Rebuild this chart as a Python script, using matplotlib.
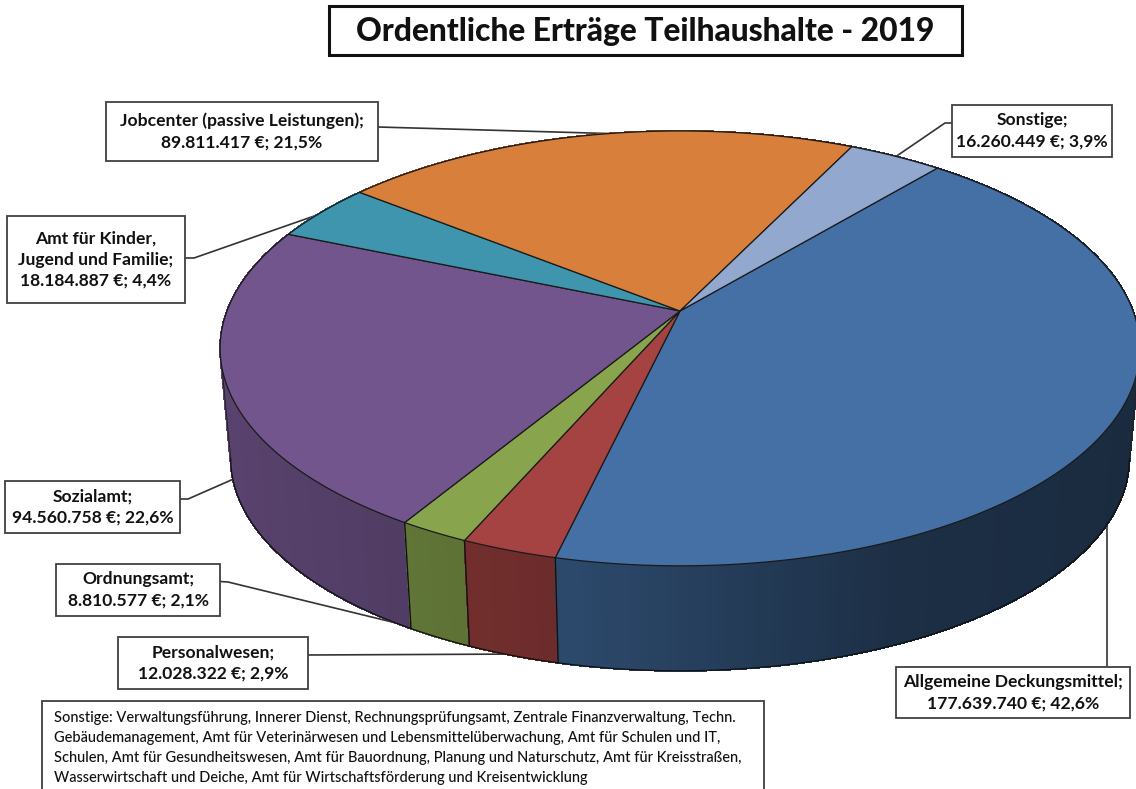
import numpy as np
import matplotlib
matplotlib.use("Agg")
import matplotlib.pyplot as plt
from matplotlib.patches import Polygon, Rectangle

# ---- data ----
categories = ["Allgemeine Deckungsmittel", "Personalwesen", "Ordnungsamt", "Sozialamt",
              "Amt für Kinder,\nJugend und Familie", "Jobcenter (passive Leistungen)", "Sonstige"]
values = [177639740, 12028322, 8810577, 94560758, 18184887, 89811417, 16260449]
value_labels = ["177.639.740 €; 42,6%", "12.028.322 €; 2,9%", "8.810.577 €; 2,1%", "94.560.758 €; 22,6%",
                "18.184.887 €; 4,4%", "89.811.417 €; 21,5%", "16.260.449 €; 3,9%"]
top_colors = ["#4470A5", "#A54342", "#88A54E", "#71558C", "#3F94AE", "#D87F3C", "#92A8CF"]
title = "Ordentliche Erträge Teilhaushalte - 2019"
note = ("Sonstige: Verwaltungsführung, Innerer Dienst, Rechnungsprüfungsamt, Zentrale Finanzverwaltung, Techn.\n"
        "Gebäudemanagement, Amt für Veterinärwesen und Lebensmittelüberwachung, Amt für Schulen und IT,\n"
        "Schulen, Amt für Gesundheitswesen, Amt für Bauordnung, Planung und Naturschutz, Amt für Kreisstraßen,\n"
        "Wasserwirtschaft und Deiche, Amt für Wirtschaftsförderung und Kreisentwicklung")

plt.rcParams['font.family'] = ['Lato', 'DejaVu Sans']
W, H = 1136, 789
fig = plt.figure(figsize=(W / 100, H / 100), dpi=100)
ax = fig.add_axes([0, 0, 1, 1])
ax.set_xlim(0, W)
ax.set_ylim(H, 0)
ax.axis("off")

# ---- perspective projection of the pie disc ----
CX, CY, A, B, K = 680.0, 311.0, 453.0, 211.0, 0.172
START = np.radians(40.0)
VP_Y, SCALE = 5130.0, 0.977


def top_pts(theta):
    u, v = np.sin(theta), np.cos(theta)
    d = 1 + K * v
    return CX + A * u / d, CY - B * v / d


def bottom_pts(theta):
    x, y = top_pts(theta)
    return CX + SCALE * (x - CX), VP_Y + SCALE * (y - VP_Y)


def shade(theta):
    return np.interp(np.sin(theta), [-1, -0.2, 0.4, 1], [0.80, 0.65, 0.42, 0.38])


fractions = np.array(values, dtype=float) / np.sum(values)
edges = START + 2 * np.pi * np.concatenate([[0], np.cumsum(fractions)])

# side wall, far to near
quads = []
for i, col in enumerate(top_colors):
    n = max(4, int(fractions[i] * 360))
    th = np.linspace(edges[i], edges[i + 1], n + 1)
    for a, b in zip(th[:-1], th[1:]):
        quads.append((np.cos((a + b) / 2), a, b, col))
quads.sort(key=lambda q: -q[0])
for _, a, b, col in quads:
    m = (a + b) / 2
    rgb = np.array(matplotlib.colors.to_rgb(col)) * shade(m)
    xt0, yt0 = top_pts(a); xt1, yt1 = top_pts(b)
    xb0, yb0 = bottom_pts(a); xb1, yb1 = bottom_pts(b)
    ax.add_patch(Polygon([(xt0, yt0), (xt1, yt1), (xb1, yb1), (xb0, yb0)],
                         facecolor=rgb, edgecolor=rgb, lw=0.8, antialiased=False, zorder=2))

# outline of side wall
TANGENT = np.arcsin(K)
front = np.linspace(np.pi / 2 + TANGENT, 3 * np.pi / 2 - TANGENT, 300)
bx, by = bottom_pts(front)
ax.plot(bx, by, color="#111111", lw=0.9, zorder=3)
for t in (np.pi / 2 + TANGENT, 3 * np.pi / 2 - TANGENT):
    xt, yt = top_pts(t)
    xb, yb = bottom_pts(t)
    ax.plot([xt, xb], [yt, yb], color="#222222", lw=0.7, zorder=3)
for e in edges:
    if np.cos(e) < 0:
        xt, yt = top_pts(e)
        xb, yb = bottom_pts(e)
        ax.plot([xt, xb], [yt, yb], color="#111111", lw=1.0, zorder=3)

# top surface
for i, col in enumerate(top_colors):
    th = np.linspace(edges[i], edges[i + 1], 200)
    x, y = top_pts(th)
    pts = np.column_stack([np.r_[CX, x], np.r_[CY, y]])
    ax.add_patch(Polygon(pts, closed=True, facecolor=col, edgecolor="#1a1a1a", lw=0.9, zorder=4))


# ---- labels ----
def box(x0, y0, x1, y1, text, fs, weight="bold", ha="center", ls=1.42, edge="#404040", lw=1.3, ty=None):
    ax.add_patch(Rectangle((x0, y0), x1 - x0, y1 - y0, facecolor="white", edgecolor=edge, lw=lw, zorder=6))
    tx = (x0 + x1) / 2 if ha == "center" else x0 + 12
    ty = (y0 + y1) / 2 if ty is None else ty
    ax.text(tx, ty, text, ha=ha, va="center", fontsize=fs, color="#111111",
            fontweight=weight, linespacing=ls, zorder=7)


def leader(xs, ys, z=1):
    ax.plot(xs, ys, color="#333333", lw=1.2, zorder=z, solid_capstyle="butt")


label_boxes = [(896, 667, 1130, 718), (118, 637, 308, 689), (56, 564, 220, 616), (5, 481, 180, 533),
               (7, 216, 185, 303), (106, 102, 378, 161), (952, 105, 1112, 157)]
leaders = [([1107, 1107], [667, 500]),
           ([308, 530], [655, 654]),
           ([220, 228, 470], [581.5, 582, 641]),
           ([180, 188, 245], [499, 499, 474]),
           ([185, 194, 340], [258, 258, 207]),
           ([378, 640], [127, 134.4]),
           ([952, 945, 885], [123, 123, 164])]
for xs, ys in leaders:
    leader(xs, ys)
for cat, lab, bx_ in zip(categories, value_labels, label_boxes):
    box(*bx_, f"{cat};\n{lab}", 12.6)

# title
box(329, 5.5, 962, 55, title, 22.9, weight="black", edge="#111111", lw=2.2, ty=31)
# note
box(42, 701, 764, 800, note, 10.5, weight="medium", ha="left", ls=1.52, ty=748)

fig.savefig("out.png", dpi=100)
